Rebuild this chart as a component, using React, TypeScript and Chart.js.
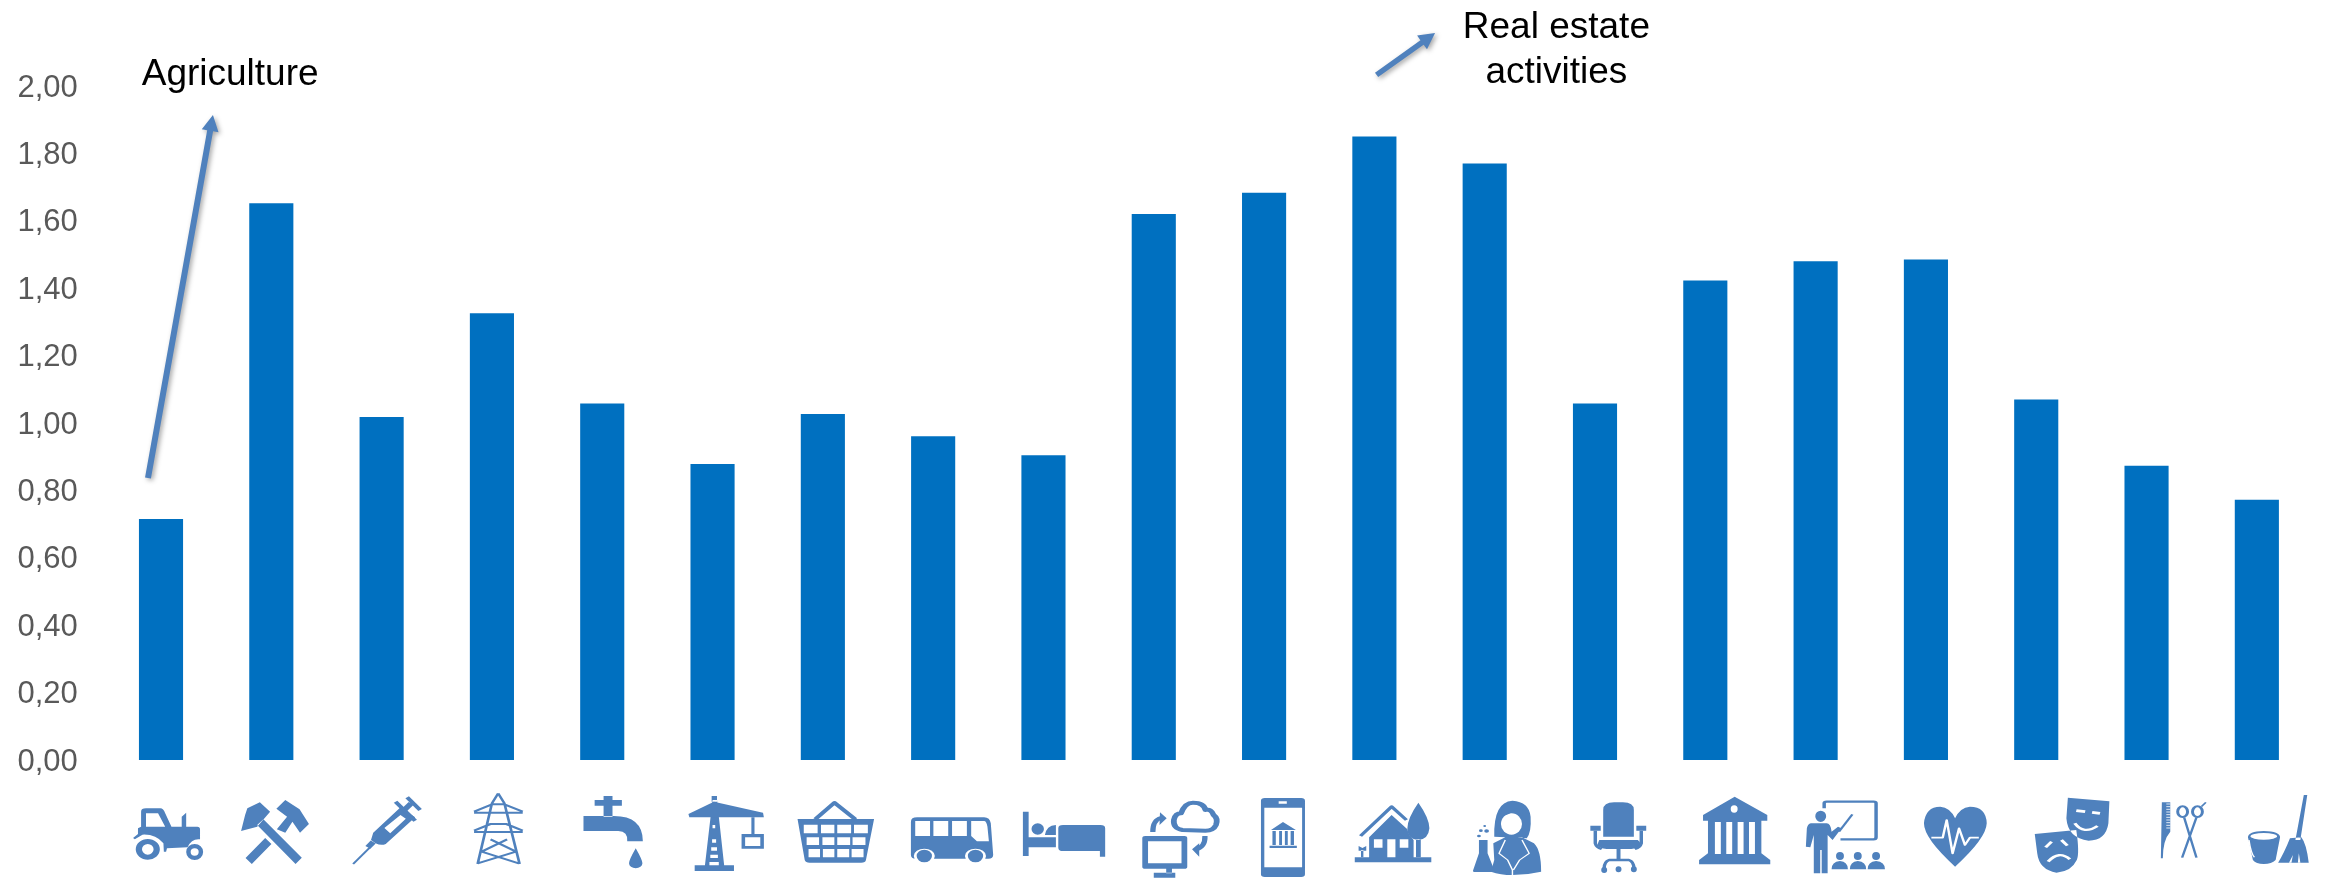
import React, { useEffect, useRef } from "react";
import { Chart, registerables } from "chart.js";

Chart.register(...registerables);

const sectors = [
  "Agriculture", "Mining", "Manufacturing", "Electricity", "Water supply", "Construction", "Retail trade",
  "Transport", "Accommodation", "Information", "Finance", "Real estate activities", "Science", "Administration",
  "Public administration", "Education", "Health", "Arts", "Other services", "Domestic services",
];
const sectorValues = [
  0.715, 1.652, 1.018, 1.326, 1.058, 0.878, 1.027, 0.961, 0.904, 1.62,
  1.683, 1.85, 1.77, 1.058, 1.423, 1.48, 1.485, 1.07, 0.873, 0.772,
];
const axisMax = 2;
const axisStep = 0.2;

const BAR = "#0070C0";
const ICON = "#4F81BD";
const FONT = '"Liberation Sans", Arial, sans-serif';

// Callout arrows and their labels, placed in category/value units.
const arrows = [
  { from: [-0.118, 0.837], to: [0.471, 1.914], width: 6 },
  { from: [11.02, 2.033], to: [11.55, 2.157], width: 5.5 },
];
const callouts = [
  { text: "Agriculture", at: [0.627, 2.003] },
  { text: "Real estate", at: [12.65, 2.142] },
  { text: "activities", at: [12.65, 2.009] },
];

const circle = (x: number, y: number, r: number, ry = r) =>
  `M${x - r} ${y}A${r} ${ry} 0 1 0 ${x + r} ${y}A${r} ${ry} 0 1 0 ${x - r} ${y}Z`;
const box = (a: number, b: number, c: number, d: number) => `M${a} ${b}L${c} ${b}L${c} ${d}L${a} ${d}Z`;

type Stroke = { d: string; w: number; white?: boolean };
type Glyph = { ox: number; s: number; fill?: string; strokes?: Stroke[]; cut?: string; over?: string };

// Sector pictograms beneath the bars. ox is the glyph's own x at the bar centre, s its horizontal design-unit scale.
const S1 = 2.24, S2 = 2.0907, S3 = 2.023;
const GLYPH_Y_SCALE = 3;
const basketHoles = [
  [194, 220, [[8, 37], [44, 72], [78, 107], [113, 142]]],
  [232, 255, [[14, 40], [47, 72], [78, 105], [110, 137]]],
  [267, 292, [[18, 42], [48, 72], [78, 103], [108, 133]]],
] as [number, number, number[][]][];

const glyphs: Glyph[] = [
  { // tractor
    ox: 136.6, s: S1,
    fill: "M92 200L92 155Q92 145 103 145L135 145Q142 145 146 160L160 200L183 200L183 170L193 158L193 200L218 200Q224 200 224 208L224 238Q205 235 196 262L150 265L148 275L143 275L142 250Q125 222 95 224L78 238L74 234L85 222L85 205Z" +
      "M103 160L130 160L146 200L103 200Z" + circle(107, 268, 27, 31) + circle(107, 268, 13, 16) + circle(212, 276, 19, 24) + circle(212, 276, 9, 11),
  },
  { // crossed hammers
    ox: 383.7, s: S1,
    fill: "M358 127L381 155L352 200L316 213L325 165L330 145Z" +
      "M415 120L447 148L468 192L448 218L431 185L415 218L396 208L419 170L395 146Z" +
      "M370 234L384 252L340 312L326 294Z" + "M366 178L452 293L438 312L352 195Z",
  },
  { // syringe
    ox: 630.8, s: S1,
    fill: "M612 218L672 143L706 172L640 252Q630 258 617 250L607 240Z" + "M637 204L673 165L685 176L650 220Z",
    strokes: [
      { d: "M567 312L605 262", w: 5 },
      { d: "M600 262L612 246", w: 14 },
      { d: "M688 112L717 150", w: 10 },
      { d: "M697 130L680 152", w: 14 },
      { d: "M662 125L706 182", w: 10 },
    ],
  },
  { // transmission tower
    ox: 878, s: S1,
    strokes: [{
      w: 6,
      d: "M892 100L878 130L846 312M892 100L906 130L940 312M838 155L878 133L906 133L947 155M838 158L947 158" +
        "M838 212L875 192L910 192L947 212M838 216L947 216M875 238L932 275L846 310M912 238L855 275L938 310",
    }],
  },
  { // tap and drop
    ox: 1124, s: S1,
    fill: box(1107, 120, 1168, 137) + box(1127, 108, 1147, 120) + box(1127, 137, 1147, 170) +
      "M1082 168L1150 168Q1215 168 1215 244L1180 244Q1182 214 1160 213L1082 213Z" +
      "M1199 265Q1214 300 1214 310A15 15 0 0 1 1184 310Q1184 300 1199 265Z",
  },
  { // tower crane
    ox: 1372, s: S1,
    fill: "M1372 120L1355 316L1398 316L1382 120Z" + box(1332, 316, 1420, 333) +
      box(1370, 108, 1382, 125) +
      box(1459, 172, 1466, 222) + box(1437, 222, 1487, 266) + box(1445, 232, 1479, 258),
    over: "M1375 125L1485 158L1487 172L1320 172L1318 162Z",
    cut: "M1385 142L1425 156L1385 156Z" + "M1352 156L1368 145L1368 156Z" +
      box(1372, 195, 1378, 205) + box(1371, 238, 1380, 248) + box(1369, 262, 1382, 272) + box(1367, 284, 1384, 294) + box(1365, 306, 1386, 316),
  },
  { // shopping basket
    ox: 47.9, s: S2,
    fill: "M-5 177L155 177L138 300Q137 308 128 308L20 308Q12 308 10 300Z" +
      basketHoles.map(([t, b, cols]) => cols.map(([l, r]) => box(l, t, r, b)).join("")).join(""),
    strokes: [{ d: "M32 178L72 128L116 178", w: 10 }],
  },
  { // bus
    ox: 278.5, s: S2,
    fill: "M245 172L385 172Q397 172 399 190L404 285Q404 296 394 296L242 296Q232 296 232 285L232 185Q232 172 245 172Z" +
      box(241, 183, 272, 228) + box(279, 183, 310, 228) + box(318, 183, 349, 228) +
      "M358 183L385 183Q390 183 392 200L395 244L370 244L358 228Z",
    cut: circle(260, 288, 22) + circle(367, 288, 22),
    over: circle(260, 288, 16, 19) + circle(367, 288, 16, 19),
  },
  { // bed and sleeper
    ox: 509, s: S2,
    fill: box(466, 155, 478, 288) + box(478, 232, 535, 262) +
      "M540 205Q540 195 550 195L628 195Q638 195 638 205L638 290L627 290L627 273L550 273Q540 273 540 263Z" +
      circle(497, 207, 13, 17) + "M512 225Q515 197 535 195L535 225Z",
  },
  { // computer and cloud
    ox: 740, s: S2,
    fill: "M722 228L804 228Q810 228 810 234L810 320Q810 326 804 326L722 326Q716 326 716 320L716 234Q716 228 722 228Z" +
      box(728, 244, 798, 310) + box(766, 326, 778, 340) + box(740, 338, 785, 353) +
      "M753 157L767 175L752 195Z" + "M820 268L835 250L835 290Z",
    strokes: [
      { w: 12, d: "M800 210Q780 205 782 180Q785 160 797 160Q805 128 822 128Q845 128 848 150Q860 145 865 165Q875 175 870 195Q865 212 848 212Z" },
      { w: 11, d: "M738 216Q738 180 755 174" },
      { w: 11, d: "M847 228Q848 262 826 270" },
    ],
  },
  { // phone with bank
    ox: 970.5, s: S2,
    fill: "M972 114L1048 114Q1056 114 1056 122L1056 343Q1056 351 1048 351L972 351Q964 351 964 343L964 122Q964 114 972 114Z" +
      box(971, 143, 1050, 322) + box(1001, 124, 1018, 131),
    over: "M1010 186L985 210L1037 210Z" + box(988, 213, 995, 255) + box(1002, 213, 1008, 255) + box(1014, 213, 1020, 255) + box(1026, 213, 1033, 255) + box(982, 257, 1039, 264),
  },
  { // house and tree
    ox: 1201, s: S2,
    fill: box(1160, 292, 1320, 307) +
      "M1190 292L1190 232L1237 165L1270 208Q1272 225 1283 240L1283 292Z" +
      box(1200, 238, 1218, 263) + box(1228, 238, 1245, 292) + box(1254, 238, 1272, 263),
    over: "M1293 128Q1316 175 1316 205Q1314 238 1293 240Q1270 238 1270 205Q1270 175 1293 128Z" + box(1288, 238, 1298, 292) +
      box(1173, 270, 1178, 292) + "M1168 258L1176 264L1184 258L1184 272L1168 272Z",
    strokes: [{ d: "M1172 228L1237 140L1268 180", w: 8 }],
  },
  { // scientist with flask
    ox: 1432, s: S2,
    fill: "M1452 230Q1450 125 1490 122Q1525 125 1528 170Q1530 215 1520 235L1500 232L1475 232Z" +
      "M1450 250L1475 232L1510 232L1535 250Q1550 270 1550 335Q1520 345 1490 345Q1465 345 1445 335L1452 300Z",
    cut: circle(1488, 192, 22, 32),
    over: "M1464 170Q1485 165 1500 145Q1510 165 1512 175L1510 135L1470 135Z" +
      "M1420 240L1438 240L1438 280L1452 330Q1452 336 1445 336L1412 336Q1406 336 1408 330L1420 280Z" +
      circle(1432, 198, 3) + circle(1424, 212, 4) + circle(1436, 213, 5) + circle(1420, 228, 4),
    strokes: [
      { d: "M1475 240L1462 280L1480 300L1490 330L1490 345", w: 3, white: true },
      { d: "M1510 240L1525 280L1505 300L1492 330", w: 3, white: true },
    ],
  },
  { // office chair
    ox: 91.4, s: S3,
    fill: "M108 230L108 150Q108 127 130 127L148 127Q170 127 170 150L170 230Z" +
      "M100 240L178 240Q185 250 185 258Q175 267 165 267L115 267Q100 265 96 255Z" +
      box(135, 267, 143, 300) + box(82, 197, 103, 212) + box(175, 197, 195, 212) +
      circle(110, 330, 6, 9) + circle(139, 328, 6, 9) + circle(170, 328, 6, 9),
    strokes: [
      { d: "M110 325Q110 305 120 300L160 300Q170 305 170 325", w: 7 },
      { d: "M92 212L92 250Q94 262 105 267", w: 7 },
      { d: "M185 212L185 250Q183 262 172 267", w: 7 },
    ],
  },
  { // public building
    ox: 314.6, s: S3,
    fill: "M374 110L440 165L440 182L428 182L428 280L446 300L446 313L302 313L302 300L320 280L320 182L310 182L310 165Z" +
      circle(373, 147, 7, 11) + box(334, 186, 346, 282) + box(357, 186, 369, 282) + box(380, 186, 392, 282) + box(403, 186, 415, 282),
  },
  { // teacher and pupils
    ox: 537.7, s: S3,
    fill: circle(548, 169, 11, 17) +
      "M528 190Q522 192 520 205L518 260L527 262L534 225L534 340L547 340L547 270L550 270L550 340L562 340L562 225L572 240L590 205L583 200L570 215Q568 190 560 190Z" +
      circle(587, 288, 8, 12) + circle(623, 288, 8, 12) + circle(660, 288, 8, 12) +
      "M570 328Q570 305 587 303Q603 305 603 328Z" + "M607 328Q607 305 623 303Q640 305 640 328Z" + "M643 328Q643 305 660 303Q678 305 678 328Z",
    strokes: [
      { d: "M555 145L555 130Q555 125 560 125L655 125Q660 125 660 130L660 232Q660 238 655 238L588 238", w: 7 },
      { d: "M585 215L612 163", w: 5 },
    ],
  },
  { // heart with pulse
    ox: 761, s: S3,
    fill: "M820 320Q757 235 757 190Q760 140 790 140Q810 142 820 175Q830 142 850 140Q883 140 884 190Q883 235 820 320Z",
    strokes: [{ d: "M772 233L795 233L803 180L815 280L828 205L840 255L850 233L868 233", w: 5, white: true }],
  },
  { // theatre masks
    ox: 984, s: S3,
    fill: "M981 222L1065 210Q1072 280 1066 300Q1055 335 1025 338Q990 330 986 280Z" +
      "M1048 113L1132 124L1130 190Q1125 242 1090 242Q1048 235 1045 175Z",
    strokes: [
      { d: "M1065 152L1083 155", w: 8, white: true },
      { d: "M1097 157L1113 160", w: 8, white: true },
      { d: "M1062 190Q1080 225 1108 198", w: 7, white: true },
      { d: "M1003 262L1015 245", w: 7, white: true },
      { d: "M1035 240L1047 257", w: 7, white: true },
      { d: "M1008 305Q1030 270 1052 298", w: 7, white: true },
    ],
  },
  { // comb and scissors
    ox: 1207, s: S3,
    fill: "M1238 127L1255 127L1255 215Q1240 240 1240 295L1236 295Z",
    strokes: [
      { d: "M1247 132L1255 132M1247 140L1255 140M1247 148L1255 148M1247 156L1255 156M1247 164L1255 164M1247 172L1255 172M1247 180L1255 180M1247 188L1255 188M1247 196L1255 196M1247 204L1255 204", w: 2, white: true },
      { d: circle(1280, 155, 10, 16) + circle(1310, 155, 10, 16), w: 6 },
      { d: "M1283 172L1308 293M1308 172L1279 293", w: 5 },
      { d: "M1318 140L1327 127", w: 4 },
    ],
  },
  { // bucket and broom
    ox: 1430, s: S3,
    fill: "M1412 232Q1412 214 1444 213Q1477 214 1477 232L1468 300Q1460 312 1444 312Q1428 312 1422 300Z" +
      "M1525 105L1532 105L1518 240L1508 240Z" + "M1497 235L1520 232Q1530 250 1535 308L1473 308Q1485 280 1497 235Z",
    cut: circle(1444, 229, 27, 10) + "M1495 308L1503 285L1500 308Z" + "M1513 308L1515 280L1518 308Z",
    strokes: [{ d: "M1414 240Q1418 280 1425 292", w: 3, white: true }],
  },
];

// Draws the pictogram row and the callouts after the bars are laid out.
const annotations = {
  id: "annotations",
  afterDraw(chart: any) {
    const { ctx, scales, chartArea } = chart;
    const { x, y } = scales;

    glyphs.forEach((g, i) => {
      ctx.save();
      ctx.translate(x.getPixelForValue(i), chartArea.bottom);
      ctx.scale(1 / g.s, 1 / GLYPH_Y_SCALE);
      ctx.translate(-g.ox, 0);
      ctx.lineJoin = "round";
      ctx.fillStyle = ICON;
      if (g.fill) ctx.fill(new Path2D(g.fill), "evenodd");
      if (g.cut) {
        ctx.fillStyle = "#fff";
        ctx.fill(new Path2D(g.cut));
        ctx.fillStyle = ICON;
      }
      if (g.over) ctx.fill(new Path2D(g.over), "evenodd");
      (g.strokes || []).forEach((st) => {
        ctx.strokeStyle = st.white ? "#fff" : ICON;
        ctx.lineWidth = st.w;
        ctx.stroke(new Path2D(st.d));
      });
      ctx.restore();
    });

    arrows.forEach((a) => {
      const x0 = x.getPixelForValue(a.from[0]);
      const y0 = y.getPixelForValue(a.from[1]);
      const x1 = x.getPixelForValue(a.to[0]);
      const y1 = y.getPixelForValue(a.to[1]);
      const ang = Math.atan2(y1 - y0, x1 - x0);
      const len = Math.hypot(x1 - x0, y1 - y0);
      ctx.save();
      ctx.shadowColor = "rgba(0,0,0,0.35)";
      ctx.shadowBlur = 5;
      ctx.shadowOffsetX = 2;
      ctx.shadowOffsetY = 2;
      ctx.translate(x0, y0);
      ctx.rotate(ang);
      ctx.fillStyle = ICON;
      ctx.beginPath();
      ctx.moveTo(0, -a.width / 2);
      ctx.lineTo(len - 16, -a.width / 2);
      ctx.lineTo(len - 16, -8.5);
      ctx.lineTo(len, 0);
      ctx.lineTo(len - 16, 8.5);
      ctx.lineTo(len - 16, a.width / 2);
      ctx.lineTo(0, a.width / 2);
      ctx.closePath();
      ctx.fill();
      ctx.restore();
    });

    ctx.save();
    ctx.fillStyle = "#000";
    ctx.font = `37px ${FONT}`;
    ctx.textAlign = "center";
    ctx.textBaseline = "alphabetic";
    callouts.forEach((c) => ctx.fillText(c.text, x.getPixelForValue(c.at[0]), y.getPixelForValue(c.at[1])));
    ctx.restore();
  },
};

export default function App() {
  const ref = useRef<HTMLCanvasElement>(null);

  useEffect(() => {
    const chart = new Chart(ref.current!, {
      type: "bar",
      data: {
        labels: sectors,
        datasets: [{
          data: sectorValues,
          backgroundColor: BAR,
          borderWidth: 0,
          barPercentage: 0.4,
          categoryPercentage: 1,
        }],
      },
      plugins: [annotations],
      options: {
        animation: false,
        responsive: false,
        layout: { padding: { top: 86, bottom: 118, right: 13, left: 0 } },
        plugins: { legend: { display: false }, tooltip: { enabled: false } },
        scales: {
          x: { display: false },
          y: {
            min: 0,
            max: axisMax,
            afterFit(scale: any) { scale.width = 105.85; },
            grid: { display: false },
            border: { display: false },
            ticks: {
              stepSize: axisStep,
              color: "#595959",
              padding: 20,
              labelOffset: 2,
              font: { family: FONT, size: 31 },
              callback: (v: any) => Number(v).toFixed(2).replace(".", ","),
            },
          },
        },
      },
    });
    return () => chart.destroy();
  }, []);

  return (
    <canvas
      ref={ref}
      width={2325}
      height={878}
      style={{ position: "fixed", left: 0, top: 0, width: 2325, height: 878, display: "block" }}
    />
  );
}
